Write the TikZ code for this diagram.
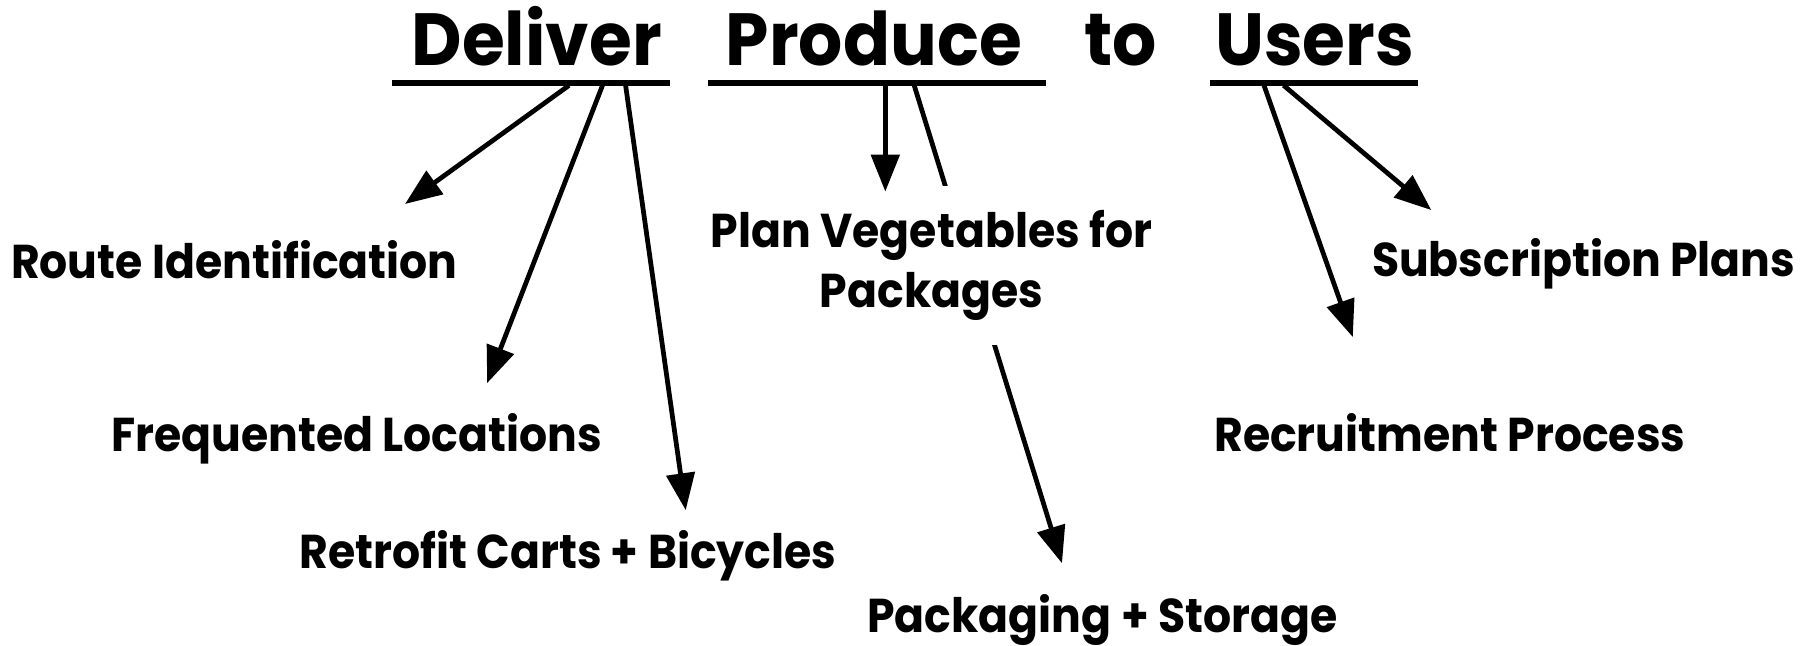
\documentclass[tikz,border=0pt]{standalone}
\usepackage{fontspec}
\setmainfont{Poppins}
\newfontfamily\lblfont[FakeStretch=0.93]{Poppins}
\newfontfamily\ttlfont[FakeStretch=0.94]{Poppins}
\usetikzlibrary{arrows.meta}
\tikzset{
  title/.style={font=\ttlfont\fontsize{21pt}{25pt}\selectfont\bfseries, anchor=base, inner sep=0pt},
  lbl/.style={font=\lblfont\fontsize{13.5pt}{17pt}\selectfont\bfseries, anchor=base, inner sep=0pt},
  uline/.style={line width=1.7pt},
  conn/.style={line width=1.35pt, -{Triangle[length=10.5pt,width=8pt]}},
}
\begin{document}
\begin{tikzpicture}[x=0.01cm,y=-0.01cm]
\useasboundingbox (0,0) rectangle (1810,646);
% title
\node[title] (deliver) at (536.8,65.8) {Deliver};
\node[title] (produce) at (873.8,65.8) {Produce};
\node[title] (to) at (1120.8,65.8) {to};
\node[title] (users) at (1314.7,65.8) {Users};
% underlines
\coordinate (dl) at (392,83) ; \coordinate (dr) at (669.5,83);
\coordinate (pl) at (707.6,83); \coordinate (pr) at (1045.8,83);
\coordinate (ul) at (1209.7,83); \coordinate (ur) at (1417.5,83);
\draw[uline] (dl) -- (dr);
\draw[uline] (pl) -- (pr);
\draw[uline] (ul) -- (ur);
% start points
\coordinate (d1) at (569,85.4);
\coordinate (d2) at (602.5,85.4);
\coordinate (d3) at (625.6,85.4);
\coordinate (p1) at (885.3,85.4);
\coordinate (p2) at (914.2,85.4);
\coordinate (u1) at (1264,85.4);
\coordinate (u2) at (1283.6,85.4);
% tips
\coordinate (t1) at (405,204);
\coordinate (t2) at (487.1,383.2);
\coordinate (t3) at (685.7,510.2);
\coordinate (t4) at (885.3,191.6);
\coordinate (t5) at (1062,563.3);
\coordinate (t6) at (1352.8,337.1);
\coordinate (t7) at (1431.3,210.1);
% arrow passing behind the "Plan Vegetables" label
\draw[conn] (p2) -- (t5);
% labels
\node[lbl] (route) at (234.3,278) {Route Identification};
\node[lbl] (freq) at (356.7,451.3) {Frequented Locations};
\node[lbl] (retro) at (567.9,568) {Retrofit Carts + Bicycles};
\node[lbl, anchor=center, align=center, fill=white, inner xsep=4pt, inner ysep=7pt] (plan) at (931.5,265.5) {Plan Vegetables for\\Packages};
\node[lbl] (pack) at (1102.4,632.6) {Packaging + Storage};
\node[lbl] (subs) at (1583.7,277) {Subscription Plans};
\node[lbl] (recr) at (1449.8,451.3) {Recruitment Process};
% arrows
\draw[conn] (d1) -- (t1);
\draw[conn] (d2) -- (t2);
\draw[conn] (d3) -- (t3);
\draw[conn] (p1) -- (t4);
\draw[conn] (u1) -- (t6);
\draw[conn] (u2) -- (t7);
\end{tikzpicture}
\end{document}
